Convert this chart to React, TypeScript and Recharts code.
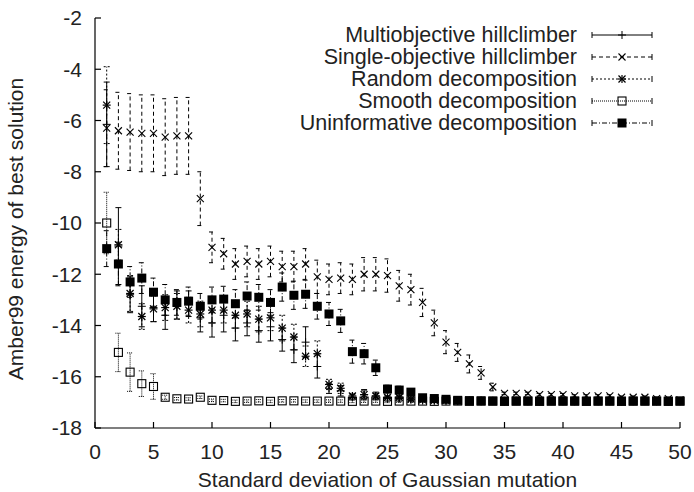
import React from "react";
import { ErrorBar, Scatter, ScatterChart, XAxis, YAxis } from "recharts";

const sigma = [
  1, 2, 3, 4, 5, 6, 7, 8, 9, 10, 11, 12, 13, 14, 15, 16, 17, 18, 19, 20, 21, 22, 23, 24, 25,
  26, 27, 28, 29, 30, 31, 32, 33, 34, 35, 36, 37, 38, 39, 40, 41, 42, 43, 44, 45, 46, 47, 48, 49, 50,
];

const multiMean = [
  -6.15, -10.9, -12.8, -13.25, -13.3, -13.6, -13.2, -13.15, -13.7, -13.9, -13.6, -14.1, -13.9, -14.2, -14.05,
  -14.55, -14.95, -14.65, -15.6, -16.45, -16.55, -16.8, -16.7, -16.75, -16.85, -16.85, -16.9, -16.93, -16.94, -16.95,
  -16.95, -16.95, -16.96, -16.95, -16.96, -16.95, -16.96, -16.96, -16.95, -16.96, -16.96, -16.95, -16.96, -16.96, -16.96,
  -16.96, -16.95, -16.96, -16.96, -16.96,
];
const multiErr = [
  1.65, 1.5, 0.7, 0.8, 0.55, 0.55, 0.55, 0.5, 0.55, 0.55, 0.65, 0.5, 0.5, 0.45, 0.55,
  0.45, 0.5, 0.6, 0.45, 0.2, 0.2, 0.1, 0.2, 0.15, 0.1, 0.1, 0.05, 0.05, 0.05, 0.05,
  0.05, 0.05, 0.05, 0.05, 0.05, 0.05, 0.05, 0.05, 0.05, 0.05, 0.05, 0.05, 0.05, 0.05, 0.05,
  0.05, 0.05, 0.05, 0.05, 0.05,
];

const singleMean = [
  -6.3, -6.4, -6.45, -6.5, -6.5, -6.65, -6.6, -6.6, -9.05, -10.95, -11.2, -11.6, -11.5, -11.6, -11.5,
  -11.7, -11.7, -11.6, -12.1, -12.2, -12.15, -12.2, -12.0, -12.0, -12.05, -12.45, -12.6, -13.1, -13.9, -14.65,
  -15.05, -15.5, -15.85, -16.4, -16.65, -16.65, -16.65, -16.7, -16.7, -16.7, -16.75, -16.75, -16.75, -16.75, -16.8,
  -16.8, -16.8, -16.85, -16.85, -16.9,
];
const singleErr = [
  1.5, 1.5, 1.5, 1.5, 1.5, 1.5, 1.5, 1.5, 1.05, 0.6, 0.6, 0.6, 0.6, 0.6, 0.6,
  0.6, 0.6, 0.6, 0.65, 0.6, 0.6, 0.6, 0.65, 0.65, 0.65, 0.6, 0.6, 0.55, 0.5, 0.45,
  0.35, 0.35, 0.25, 0.15, 0.05, 0.05, 0.05, 0.05, 0.05, 0.05, 0.05, 0.05, 0.05, 0.05, 0.05,
  0.05, 0.05, 0.05, 0.05, 0.05,
];

const randomMean = [
  -5.4, -10.85, -12.75, -13.65, -13.35, -13.3, -13.25, -13.4, -13.55, -13.4, -13.4, -13.6, -13.55, -13.75, -13.7,
  -14.1, -14.45, -15.2, -15.1, -16.3, -16.45, -16.75, -16.7, -16.75, -16.8, -16.8, -16.87, -16.9, -16.92, -16.92,
  -16.93, -16.93, -16.93, -16.94, -16.94, -16.94, -16.94, -16.94, -16.95, -16.94, -16.95, -16.95, -16.95, -16.95, -16.95,
  -16.95, -16.95, -16.95, -16.95, -16.95,
];
const randomErr = [
  1.5, 0.6, 0.7, 0.5, 0.5, 0.5, 0.5, 0.5, 0.5, 0.5, 0.5, 0.5, 0.5, 0.5, 0.5,
  0.5, 0.5, 0.4, 0.5, 0.2, 0.2, 0.1, 0.15, 0.1, 0.05, 0.05, 0.05, 0.05, 0.05, 0.05,
  0.05, 0.05, 0.05, 0.05, 0.05, 0.05, 0.05, 0.05, 0.05, 0.05, 0.05, 0.05, 0.05, 0.05, 0.05,
  0.05, 0.05, 0.05, 0.05, 0.05,
];

const smoothMean = [
  -10.0, -15.05, -15.82, -16.27, -16.38, -16.8, -16.86, -16.87, -16.8, -16.92, -16.93, -16.96, -16.95, -16.94, -16.96,
  -16.94, -16.94, -16.95, -16.95, -16.95, -16.95, -16.96, -16.95, -16.95, -16.96, -16.95, -16.95, -16.95, -16.96, -16.95,
  -16.95, -16.96, -16.95, -16.95, -16.96, -16.95, -16.95, -16.96, -16.95, -16.95, -16.95, -16.96, -16.95, -16.95, -16.96,
  -16.95, -16.95, -16.95, -16.96, -16.95,
];
const smoothErr = [
  1.2, 0.75, 0.75, 0.5, 0.5, 0.08, 0.05, 0.05, 0.05, 0.05, 0.05, 0.05, 0.05, 0.05, 0.05,
  0.05, 0.05, 0.05, 0.05, 0.05, 0.05, 0.05, 0.05, 0.05, 0.05, 0.05, 0.05, 0.05, 0.05, 0.05,
  0.05, 0.05, 0.05, 0.05, 0.05, 0.05, 0.05, 0.05, 0.05, 0.05, 0.05, 0.05, 0.05, 0.05, 0.05,
  0.05, 0.05, 0.05, 0.05, 0.05,
];

const uninfMean = [
  -11.0, -11.6, -12.3, -12.15, -12.7, -13.0, -13.1, -13.05, -13.25, -13.0, -12.97, -13.15, -12.85, -12.9, -13.1,
  -12.5, -12.82, -12.78, -13.25, -13.55, -13.82, -15.02, -15.1, -15.65, -16.48, -16.52, -16.6, -16.82, -16.85, -16.88,
  -16.92, -16.93, -16.94, -16.95, -16.95, -16.95, -16.95, -16.95, -16.95, -16.95, -16.95, -16.95, -16.95, -16.95, -16.95,
  -16.95, -16.95, -16.95, -16.95, -16.95,
];
const uninfErr = [
  0.7, 0.85, 0.6, 0.6, 0.55, 0.6, 0.5, 0.55, 0.5, 0.5, 0.5, 0.55, 0.55, 0.5, 0.5,
  0.55, 0.55, 0.55, 0.5, 0.45, 0.45, 0.45, 0.4, 0.3, 0.15, 0.15, 0.1, 0.05, 0.05, 0.05,
  0.05, 0.05, 0.05, 0.05, 0.05, 0.05, 0.05, 0.05, 0.05, 0.05, 0.05, 0.05, 0.05, 0.05, 0.05,
  0.05, 0.05, 0.05, 0.05, 0.05,
];

const xTicks = [0, 5, 10, 15, 20, 25, 30, 35, 40, 45, 50];
const yTicks = [-18, -16, -14, -12, -10, -8, -6, -4, -2];

const FONT = "'Liberation Sans', Arial, sans-serif";
const INK = "#000";
const TEXT = "#222";

type Kind = "plus" | "cross" | "star" | "box" | "fbox";

const SERIES: { name: string; mean: number[]; err: number[]; kind: Kind; dash: string }[] = [
  { name: "Multiobjective hillclimber", mean: multiMean, err: multiErr, kind: "plus", dash: "" },
  { name: "Single-objective hillclimber", mean: singleMean, err: singleErr, kind: "cross", dash: "4 3" },
  { name: "Random decomposition", mean: randomMean, err: randomErr, kind: "star", dash: "2 2" },
  { name: "Smooth decomposition", mean: smoothMean, err: smoothErr, kind: "box", dash: "1 1" },
  { name: "Uninformative decomposition", mean: uninfMean, err: uninfErr, kind: "fbox", dash: "5 2 1 2" },
];

function Mark({ cx, cy, kind }: { cx: number; cy: number; kind: Kind }) {
  const s = 4;
  const d = 3.5;
  if (kind === "plus") {
    return (
      <g stroke={INK} strokeWidth={1}>
        <line x1={cx - s} y1={cy} x2={cx + s} y2={cy} />
        <line x1={cx} y1={cy - s} x2={cx} y2={cy + s} />
      </g>
    );
  }
  if (kind === "cross") {
    return (
      <g stroke={INK} strokeWidth={1.1}>
        <line x1={cx - d} y1={cy - d} x2={cx + d} y2={cy + d} />
        <line x1={cx - d} y1={cy + d} x2={cx + d} y2={cy - d} />
      </g>
    );
  }
  if (kind === "star") {
    return (
      <g stroke={INK} strokeWidth={1.2}>
        <line x1={cx - s} y1={cy} x2={cx + s} y2={cy} />
        <line x1={cx} y1={cy - s} x2={cx} y2={cy + s} />
        <line x1={cx - d} y1={cy - d} x2={cx + d} y2={cy + d} />
        <line x1={cx - d} y1={cy + d} x2={cx + d} y2={cy - d} />
      </g>
    );
  }
  if (kind === "box") {
    return <rect x={cx - 4} y={cy - 4} width={8} height={8} fill="none" stroke={INK} strokeWidth={1.1} />;
  }
  return <rect x={cx - 4.5} y={cy - 4.5} width={9} height={9} fill={INK} />;
}

function LegendBox() {
  const rows = [35, 57, 79, 101, 123];
  return (
    <svg width={694} height={140} style={{ position: "absolute", left: 0, top: 0 }}>
      {SERIES.map((s, i) => (
        <g key={s.name}>
          <text
            x={577}
            y={rows[i]}
            textAnchor="end"
            dominantBaseline="central"
            fontFamily={FONT}
            fontSize={21.5}
            fill={TEXT}
          >
            {s.name}
          </text>
          <g stroke={INK} strokeWidth={1}>
            <line x1={592} y1={rows[i]} x2={652} y2={rows[i]} strokeDasharray={s.dash || undefined} />
            <line x1={592} y1={rows[i] - 3} x2={592} y2={rows[i] + 3} />
            <line x1={652} y1={rows[i] - 3} x2={652} y2={rows[i] + 3} />
          </g>
          <Mark cx={622} cy={rows[i]} kind={s.kind} />
        </g>
      ))}
    </svg>
  );
}

export default function App() {
  const tickStyle = { fontFamily: FONT, fontSize: 21, fill: TEXT };
  return (
    <div style={{ position: "absolute", left: 0, top: 0, width: 694, height: 492, background: "#fff" }}>
      <ScatterChart width={694} height={492} margin={{ top: 18, right: 14, left: 0, bottom: 0 }}>
        <XAxis
          xAxisId="b"
          dataKey="x"
          type="number"
          domain={[0, 50]}
          ticks={xTicks}
          height={64}
          tickSize={-6}
          tickMargin={22}
          tick={tickStyle}
          stroke={INK}
          strokeWidth={1.2}
          label={{
            content: (p: any) => (
              <text
                x={p.viewBox.x + p.viewBox.width / 2}
                y={p.viewBox.y + 59}
                textAnchor="middle"
                fontFamily={FONT}
                fontSize={21}
                fill={TEXT}
              >
                Standard deviation of Gaussian mutation
              </text>
            ),
          }}
        />
        <XAxis
          xAxisId="t"
          orientation="top"
          dataKey="x"
          type="number"
          domain={[0, 50]}
          ticks={xTicks}
          height={0}
          tickSize={-6}
          tick={false}
          stroke={INK}
          strokeWidth={1.2}
        />
        <YAxis
          yAxisId="l"
          dataKey="y"
          type="number"
          domain={[-18, -2]}
          ticks={yTicks}
          width={95}
          tickSize={-6}
          tickMargin={19}
          tick={tickStyle}
          stroke={INK}
          strokeWidth={1.2}
          label={{
            content: (p: any) => (
              <text
                x={p.viewBox.x + 23}
                y={p.viewBox.y + p.viewBox.height / 2 + 6}
                transform={`rotate(-90 ${p.viewBox.x + 23} ${p.viewBox.y + p.viewBox.height / 2 + 6})`}
                textAnchor="middle"
                fontFamily={FONT}
                fontSize={21}
                fill={TEXT}
              >
                Amber99 energy of best solution
              </text>
            ),
          }}
        />
        <YAxis
          yAxisId="r"
          orientation="right"
          dataKey="y"
          type="number"
          domain={[-18, -2]}
          ticks={yTicks}
          width={0}
          tickSize={-6}
          tick={false}
          stroke={INK}
          strokeWidth={1.2}
        />
        {SERIES.map((s) => (
          <Scatter
            key={s.name}
            name={s.name}
            xAxisId="b"
            yAxisId="l"
            data={sigma.map((x, i) => ({ x, y: s.mean[i], err: s.err[i] }))}
            isAnimationActive={false}
            shape={(p: any) => <Mark cx={p.cx} cy={p.cy} kind={s.kind} />}
          >
            <ErrorBar
              dataKey="err"
              direction="y"
              width={3}
              stroke={INK}
              strokeWidth={1}
              strokeDasharray={s.dash || undefined}
              isAnimationActive={false}
            />
          </Scatter>
        ))}
      </ScatterChart>
      <LegendBox />
    </div>
  );
}
